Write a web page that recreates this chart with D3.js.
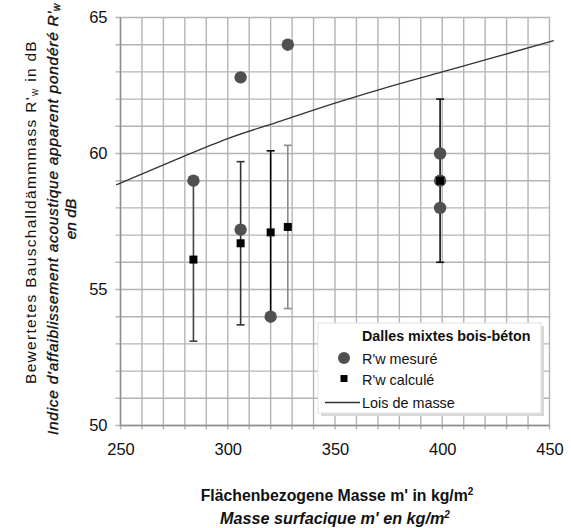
<!DOCTYPE html>
<html>
<head>
<meta charset="utf-8">
<script src="https://cdn.jsdelivr.net/npm/d3@7"></script>
<style>
  html, body { margin: 0; padding: 0; background: #fff; }
  svg { display: block; font-family: Arial, "Liberation Sans", sans-serif; }
</style>
</head>
<body>
<svg id="chart" width="571" height="528"></svg>
<script>
// ---- data ----
const measuredX = [284, 306, 306, 320, 328, 399, 399, 399];
const measuredY = [59, 62.8, 57.2, 54, 64, 60, 59, 58];

const calcX    = [284, 306, 320, 328, 399];
const calcY    = [56.1, 56.7, 57.1, 57.3, 59];
const calcLow  = [53.1, 53.7, 54.1, 54.3, 56];
const calcHigh = [59.1, 59.7, 60.1, 60.3, 62];

const massX = [248, 275, 300, 325, 350, 375, 400, 425, 452];
const massY = [58.85, 59.75, 60.55, 61.2, 61.85, 62.45, 63.0, 63.55, 64.15];

const xTicks = [250, 300, 350, 400, 450];
const yTicks = [50, 55, 60, 65];

const legendTitle = "Dalles mixtes bois-béton";
const legendItems = ["R'w mesuré", "R'w calculé", "Lois de masse"];

// ---- styles (kept separate from data) ----
const errColors = ["#444", "#333", "#000", "#8a8a8a", "#111"];

(function () {
const svg = d3.select("#chart");
const pL = 120.5, pR = 549.5, pT = 17.5, pB = 425.5;

const x = d3.scaleLinear().domain([250, 450]).range([pL, pR]);
const y = d3.scaleLinear().domain([50, 65]).range([pB, pT]);

// grid
const grid = svg.append("g");
grid.selectAll("line.vx").data(d3.range(250, 451, 10)).join("line")
  .attr("x1", d => x(d)).attr("x2", d => x(d))
  .attr("y1", pT).attr("y2", pB + 4)
  .attr("stroke", "#b4b4b4").attr("stroke-width", 1.4);
grid.selectAll("line.hy").data(d3.range(50, 65.01, 1)).join("line")
  .attr("y1", d => y(d)).attr("y2", d => y(d))
  .attr("x1", pL - 5).attr("x2", pR)
  .attr("stroke", "#b4b4b4").attr("stroke-width", 1.4);

// axes lines
svg.append("line").attr("x1", pL).attr("x2", pL).attr("y1", pT).attr("y2", pB)
  .attr("stroke", "#8c8c8c").attr("stroke-width", 1.4);
svg.append("line").attr("x1", pL).attr("x2", pR).attr("y1", pB).attr("y2", pB)
  .attr("stroke", "#8c8c8c").attr("stroke-width", 1.4);

// axes (labels via d3 axis)
const xAxis = svg.append("g").attr("transform", `translate(0,${pB})`)
  .call(d3.axisBottom(x).tickValues(xTicks).tickSize(0).tickPadding(18).tickFormat(d3.format("d")));
const yAxis = svg.append("g").attr("transform", `translate(${pL},0)`)
  .call(d3.axisLeft(y).tickValues(yTicks).tickSize(0).tickPadding(13).tickFormat(d3.format("d")));
[xAxis, yAxis].forEach(a => {
  a.select(".domain").remove();
  a.selectAll("text").attr("font-size", 16.5).attr("fill", "#111").attr("font-family", "Arial, 'Liberation Sans', sans-serif");
});

// mass law line
svg.append("path")
  .datum(massX.map((m, i) => [m, massY[i]]))
  .attr("d", d3.line().x(d => x(d[0])).y(d => y(d[1])).curve(d3.curveMonotoneX))
  .attr("fill", "none").attr("stroke", "#333").attr("stroke-width", 1.3);

// error bars
const eb = svg.append("g");
calcX.forEach((cx, i) => {
  const g = eb.append("g").attr("stroke", errColors[i]).attr("stroke-width", 1.6);
  g.append("line").attr("x1", x(cx)).attr("x2", x(cx)).attr("y1", y(calcLow[i])).attr("y2", y(calcHigh[i]));
  g.append("line").attr("x1", x(cx) - 4).attr("x2", x(cx) + 4).attr("y1", y(calcLow[i])).attr("y2", y(calcLow[i]));
  g.append("line").attr("x1", x(cx) - 4).attr("x2", x(cx) + 4).attr("y1", y(calcHigh[i])).attr("y2", y(calcHigh[i]));
});

// measured circles
svg.append("g").selectAll("circle").data(measuredX.map((m, i) => [m, measuredY[i]])).join("circle")
  .attr("cx", d => x(d[0])).attr("cy", d => y(d[1])).attr("r", 6.2)
  .attr("fill", "#505050");

// calculated squares
svg.append("g").selectAll("rect").data(calcX.map((m, i) => [m, calcY[i]])).join("rect")
  .attr("x", d => x(d[0]) - 4).attr("y", d => y(d[1]) - 4)
  .attr("width", 8).attr("height", 8).attr("fill", "#000");

// legend
const lg = svg.append("g");
const lx0 = 318, ly0 = 323, lw = 223, lh = 90;
lg.append("rect").attr("x", lx0 + 3).attr("y", ly0 + 3).attr("width", lw).attr("height", lh).attr("fill", "#d8d8d8");
lg.append("rect").attr("x", lx0).attr("y", ly0).attr("width", lw).attr("height", lh).attr("fill", "#fff")
  .attr("stroke", "#e2e2e2").attr("stroke-width", 1);
lg.append("text").attr("x", 362).attr("y", 341).text(legendTitle)
  .attr("font-size", 14.3).attr("font-weight", "bold").attr("fill", "#111");
lg.append("circle").attr("cx", 344).attr("cy", 358).attr("r", 6).attr("fill", "#505050");
lg.append("rect").attr("x", 340.5).attr("y", 375).attr("width", 7).attr("height", 7).attr("fill", "#000");
lg.append("line").attr("x1", 325).attr("x2", 360).attr("y1", 402.5).attr("y2", 402.5)
  .attr("stroke", "#333").attr("stroke-width", 1.3);
const lyy = [363.5, 384.5, 407.8];
legendItems.forEach((t, i) => {
  lg.append("text").attr("x", 362).attr("y", lyy[i]).text(t).attr("font-size", 14.4).attr("fill", "#111");
});

// x title
const xt1 = svg.append("text").attr("x", 337).attr("y", 501).attr("text-anchor", "middle")
  .attr("font-size", 15.8).attr("font-weight", "bold").attr("fill", "#111");
xt1.append("tspan").text("Flächenbezogene Masse m' in kg/m");
xt1.append("tspan").text("2").attr("font-size", 10).attr("dy", -6);
const xt2 = svg.append("text").attr("x", 335).attr("y", 523.5).attr("text-anchor", "middle")
  .attr("font-size", 16.2).attr("font-weight", "bold").attr("font-style", "italic").attr("fill", "#111");
xt2.append("tspan").text("Masse surfacique m' en kg/m");
xt2.append("tspan").text("2").attr("font-size", 10).attr("dy", -6);

// helper: stretch text to a target length using letter-spacing
function fit(sel, target) {
  const n = sel.text().length;
  const len = sel.node().getComputedTextLength();
  sel.attr("letter-spacing", Math.max(0, (target - len) / n));
}

// y title (rotated)
const yt = svg.append("g").attr("transform", `translate(0,0) rotate(-90)`);
const t1 = yt.append("text").attr("x", -212).attr("y", 36).attr("text-anchor", "middle")
  .attr("font-size", 15.5).attr("fill", "#111");
t1.append("tspan").text("Bewertetes Bauschalldämmmass R'");
t1.append("tspan").text("w").attr("font-size", 10).attr("dy", 2);
t1.append("tspan").text(" in dB").attr("dy", -2);
fit(t1, 344);
const t2 = yt.append("text").attr("x", -219).attr("y", 58).attr("text-anchor", "middle")
  .attr("font-size", 15.5).attr("font-style", "italic").attr("fill", "#111")
  .attr("stroke", "#111").attr("stroke-width", 0.35);
t2.append("tspan").text("Indice d'affaiblissement acoustique apparent pondéré R'");
t2.append("tspan").text("w").attr("font-size", 10).attr("dy", 2);
fit(t2, 432);
const t3 = yt.append("text").attr("x", -219).attr("y", 76).attr("text-anchor", "middle")
  .attr("font-size", 15.5).attr("font-style", "italic").attr("fill", "#111")
  .attr("stroke", "#111").attr("stroke-width", 0.35)
  .text("en dB");
fit(t3, 38);
})();
</script>
</body>
</html>
